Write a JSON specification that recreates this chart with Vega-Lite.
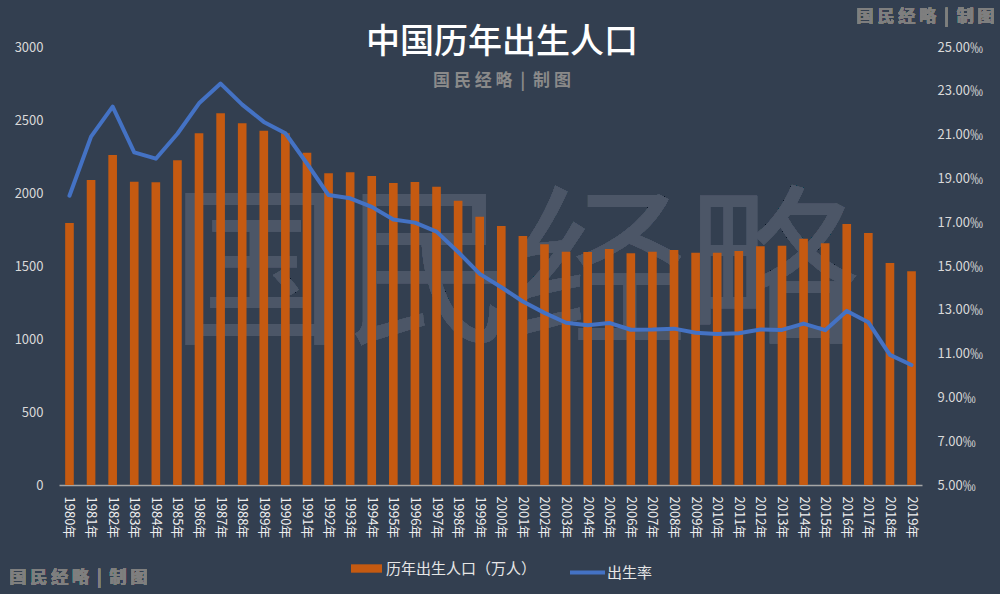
{
  "$schema": "https://vega.github.io/schema/vega-lite/v6.json",
  "width": 863,
  "height": 438,
  "autosize": {"type": "none"},
  "padding": {"left": 59, "top": 47, "right": 78, "bottom": 109},
  "background": "#333f50",
  "config": {"view": {"stroke": null}, "font": "Noto Sans CJK SC"},
  "title": {
    "text": "中国历年出生人口",
    "subtitle": "国 民 经 略\u00a0\u00a0|\u00a0\u00a0制 图",
    "color": "#ffffff",
    "fontSize": 34,
    "fontWeight": 500,
    "subtitleColor": "#8a8a8a",
    "subtitleFontSize": 17,
    "subtitleFontWeight": "bold",
    "subtitlePadding": 13,
    "anchor": "middle",
    "frame": "bounds",
    "offset": -81
  },
  "data": {
    "values": [
      {"year": "1980年", "births": 1794, "rate": 18.21},
      {"year": "1981年", "births": 2089, "rate": 20.91},
      {"year": "1982年", "births": 2260, "rate": 22.28},
      {"year": "1983年", "births": 2077, "rate": 20.19},
      {"year": "1984年", "births": 2073, "rate": 19.90},
      {"year": "1985年", "births": 2224, "rate": 21.04},
      {"year": "1986年", "births": 2409, "rate": 22.43},
      {"year": "1987年", "births": 2546, "rate": 23.33},
      {"year": "1988年", "births": 2477, "rate": 22.37},
      {"year": "1989年", "births": 2427, "rate": 21.58},
      {"year": "1990年", "births": 2409, "rate": 21.06},
      {"year": "1991年", "births": 2276, "rate": 19.68},
      {"year": "1992年", "births": 2135, "rate": 18.24},
      {"year": "1993年", "births": 2142, "rate": 18.09},
      {"year": "1994年", "births": 2116, "rate": 17.70},
      {"year": "1995年", "births": 2068, "rate": 17.12},
      {"year": "1996年", "births": 2075, "rate": 16.98},
      {"year": "1997年", "births": 2043, "rate": 16.57},
      {"year": "1998年", "births": 1947, "rate": 15.64},
      {"year": "1999年", "births": 1838, "rate": 14.64},
      {"year": "2000年", "births": 1774, "rate": 14.03},
      {"year": "2001年", "births": 1705, "rate": 13.38},
      {"year": "2002年", "births": 1649, "rate": 12.86},
      {"year": "2003年", "births": 1598, "rate": 12.41},
      {"year": "2004年", "births": 1596, "rate": 12.29},
      {"year": "2005年", "births": 1616, "rate": 12.40},
      {"year": "2006年", "births": 1587, "rate": 12.09},
      {"year": "2007年", "births": 1598, "rate": 12.10},
      {"year": "2008年", "births": 1610, "rate": 12.14},
      {"year": "2009年", "births": 1591, "rate": 11.95},
      {"year": "2010年", "births": 1591, "rate": 11.90},
      {"year": "2011年", "births": 1603, "rate": 11.93},
      {"year": "2012年", "births": 1635, "rate": 12.10},
      {"year": "2013年", "births": 1639, "rate": 12.08},
      {"year": "2014年", "births": 1687, "rate": 12.37},
      {"year": "2015年", "births": 1655, "rate": 12.07},
      {"year": "2016年", "births": 1788, "rate": 12.95},
      {"year": "2017年", "births": 1726, "rate": 12.43},
      {"year": "2018年", "births": 1521, "rate": 10.94},
      {"year": "2019年", "births": 1464, "rate": 10.48}
    ]
  },
  "encoding": {
    "x": {
      "field": "year",
      "type": "ordinal",
      "sort": null,
      "scale": {
        "domain": ["1980年","1981年","1982年","1983年","1984年","1985年","1986年","1987年","1988年","1989年","1990年","1991年","1992年","1993年","1994年","1995年","1996年","1997年","1998年","1999年","2000年","2001年","2002年","2003年","2004年","2005年","2006年","2007年","2008年","2009年","2010年","2011年","2012年","2013年","2014年","2015年","2016年","2017年","2018年","2019年"],
        "paddingInner": 0.6,
        "paddingOuter": 0.285
      },
      "axis": {
        "title": null,
        "labelAngle": 90,
        "labelColor": "#eeeeee",
        "labelFontSize": 13,
        "labelPadding": 11,
        "ticks": false,
        "domainColor": "#a6a6a6",
        "domainWidth": 1.5,
        "grid": false
      }
    }
  },
  "layer": [
    {
      "mark": {"type": "text", "text": "国民经略", "fontSize": 172, "fontWeight": "normal", "fill": "#4c5667", "align": "center", "baseline": "middle", "dx": -8},
      "encoding": {
        "x": {"datum": "2001年"},
        "y": {"datum": 1420, "type": "quantitative", "scale": {"domain": [0, 3000]}, "axis": null}
      }
    },
    {
      "mark": {"type": "bar", "color": "#c55a11"},
      "encoding": {
        "y": {
          "field": "births",
          "type": "quantitative",
          "scale": {"domain": [0, 3000]},
          "axis": {
            "orient": "left",
            "title": null,
            "format": "d",
            "values": [0, 500, 1000, 1500, 2000, 2500, 3000],
            "grid": false,
            "domain": false,
            "ticks": false,
            "labelColor": "#d9d9d9",
            "labelFontSize": 13,
            "labelPadding": 16
          }
        },
        "fill": {
          "datum": "历年出生人口（万人）",
          "scale": {"range": ["#c55a11"]},
          "legend": {
            "orient": "none",
            "legendX": 292,
            "legendY": 506,
            "title": null,
            "symbolType": "M-1,-0.27H1V0.27H-1Z",
            "symbolSize": 960,
            "symbolStrokeWidth": 0,
            "labelColor": "#e6e6e6",
            "labelFontSize": 15,
            "labelOffset": 4
          }
        }
      }
    },
    {
      "mark": {"type": "line", "color": "#4472c4", "strokeWidth": 4, "strokeJoin": "round", "strokeCap": "round"},
      "encoding": {
        "y": {
          "field": "rate",
          "type": "quantitative",
          "scale": {"domain": [5, 25]},
          "axis": {
            "orient": "right",
            "title": null,
            "values": [5, 7, 9, 11, 13, 15, 17, 19, 21, 23, 25],
            "labelExpr": "format(datum.value, '.2f') + '‰'",
            "grid": false,
            "domain": false,
            "ticks": false,
            "labelColor": "#d9d9d9",
            "labelFontSize": 13,
            "labelPadding": 15
          }
        },
        "stroke": {
          "datum": "出生率",
          "scale": {"range": ["#4472c4"]},
          "legend": {
            "orient": "none",
            "legendX": 509,
            "legendY": 506,
            "title": null,
            "symbolType": "stroke",
            "symbolSize": 1225,
            "symbolStrokeWidth": 4,
            "labelColor": "#e6e6e6",
            "labelFontSize": 15,
            "labelOffset": 0
          }
        }
      }
    },
    {
      "mark": {"type": "text", "text": "国 民 经 略\u00a0\u00a0|\u00a0\u00a0制 图", "fontSize": 17, "fontWeight": "bold", "fill": "#7f7f7f", "align": "right", "baseline": "middle", "dx": 83},
      "encoding": {
        "x": {"datum": "2019年"},
        "y": {"datum": 3205, "type": "quantitative", "scale": {"domain": [0, 3000]}, "axis": null}
      }
    },
    {
      "mark": {"type": "text", "text": "国 民 经 略\u00a0\u00a0|\u00a0\u00a0制 图", "fontSize": 17, "fontWeight": "bold", "fill": "#7f7f7f", "align": "left", "baseline": "middle", "dx": -60},
      "encoding": {
        "x": {"datum": "1980年"},
        "y": {"datum": -637, "type": "quantitative", "scale": {"domain": [0, 3000]}, "axis": null}
      }
    }
  ],
  "resolve": {"scale": {"y": "independent", "fill": "independent", "stroke": "independent"}}
}
